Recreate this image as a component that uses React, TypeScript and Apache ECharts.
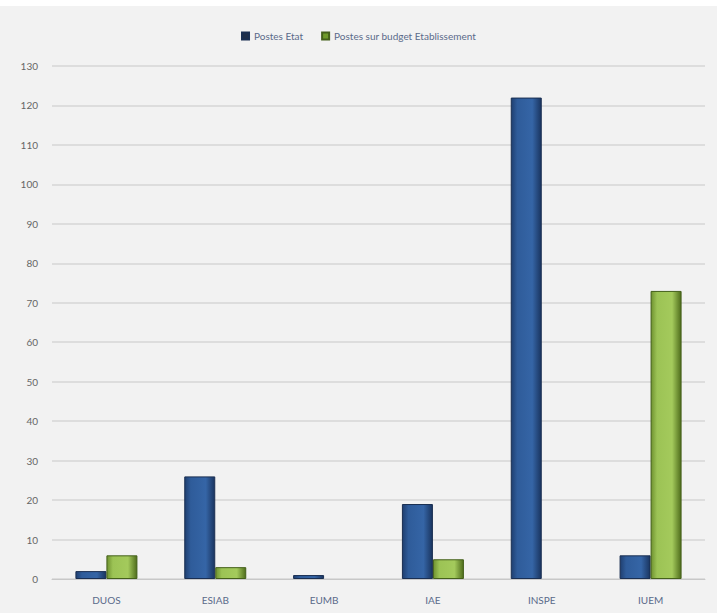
import React, { useEffect, useRef } from "react";
import * as echarts from "echarts";

const categories = ["DUOS", "ESIAB", "EUMB", "IAE", "INSPE", "IUEM"];
const postesEtat = [2, 26, 1, 19, 122, 6];
const postesBudget = [6, 3, 0, 5, 0, 73];
const seriesNames = ["Postes Etat", "Postes sur budget Etablissement"];

const hideZero = (arr: number[]) => arr.map((v) => (v === 0 ? null : v));

export default function App() {
  const ref = useRef<HTMLDivElement>(null);
  useEffect(() => {
    if (!ref.current) return;
    const chart = echarts.init(ref.current, null, { renderer: "svg" });
    const blueGrad = new echarts.graphic.LinearGradient(0, 0, 1, 0, [
      { offset: 0, color: "#1f3f70" },
      { offset: 0.2, color: "#2f5c9a" },
      { offset: 0.7, color: "#3565a6" },
      { offset: 1, color: "#1a3560" },
    ]);
    const greenGrad = new echarts.graphic.LinearGradient(0, 0, 1, 0, [
      { offset: 0, color: "#6f9230" },
      { offset: 0.2, color: "#9cc355" },
      { offset: 0.7, color: "#a4ca5c" },
      { offset: 1, color: "#4f6d1c" },
    ]);
    chart.setOption({
      animation: false,
      backgroundColor: "#f2f2f2",
      legend: {
        top: 20,
        left: "center",
        itemWidth: 7,
        itemHeight: 7,
        itemGap: 18,
        icon: "rect",
        textStyle: { color: "#5a6a8a", fontSize: 10, fontFamily: "Lato" },
        data: [
          { name: seriesNames[0], itemStyle: { color: "#1f2f4a" } },
          { name: seriesNames[1], itemStyle: { color: "#6f9a2a" } },
        ],
      },
      grid: { left: 52, right: 12, top: 60, bottom: 34 },
      xAxis: {
        type: "category",
        data: categories,
        axisLine: { lineStyle: { color: "#c8c8c8" } },
        axisTick: { show: false },
        axisLabel: { color: "#5a6a8a", fontSize: 10, fontFamily: "Lato", margin: 16 },
      },
      yAxis: {
        type: "value",
        min: 0,
        max: 130,
        interval: 10,
        axisLine: { show: false },
        axisTick: { show: false },
        axisLabel: { color: "#666", fontSize: 10, fontFamily: "Lato", margin: 14 },
        splitLine: { lineStyle: { color: "#d6d6d6", width: 1.5 } },
      },
      series: [
        {
          name: seriesNames[0],
          type: "bar",
          data: hideZero(postesEtat),
          barWidth: 31,
          barGap: "0%",
          itemStyle: { color: blueGrad, borderColor: "#1a2f52", borderWidth: 1 },
        },
        {
          name: seriesNames[1],
          type: "bar",
          data: hideZero(postesBudget),
          barWidth: 31,
          itemStyle: { color: greenGrad, borderColor: "#44601a", borderWidth: 1 },
        },
      ],
    });
    return () => chart.dispose();
  }, []);
  return (
    <div style={{ position: "fixed", left: 0, top: 0, width: 717, height: 613, background: "#ffffff" }}>
      <div ref={ref} style={{ position: "absolute", left: 0, top: 6, width: 717, height: 607 }} />
    </div>
  );
}
